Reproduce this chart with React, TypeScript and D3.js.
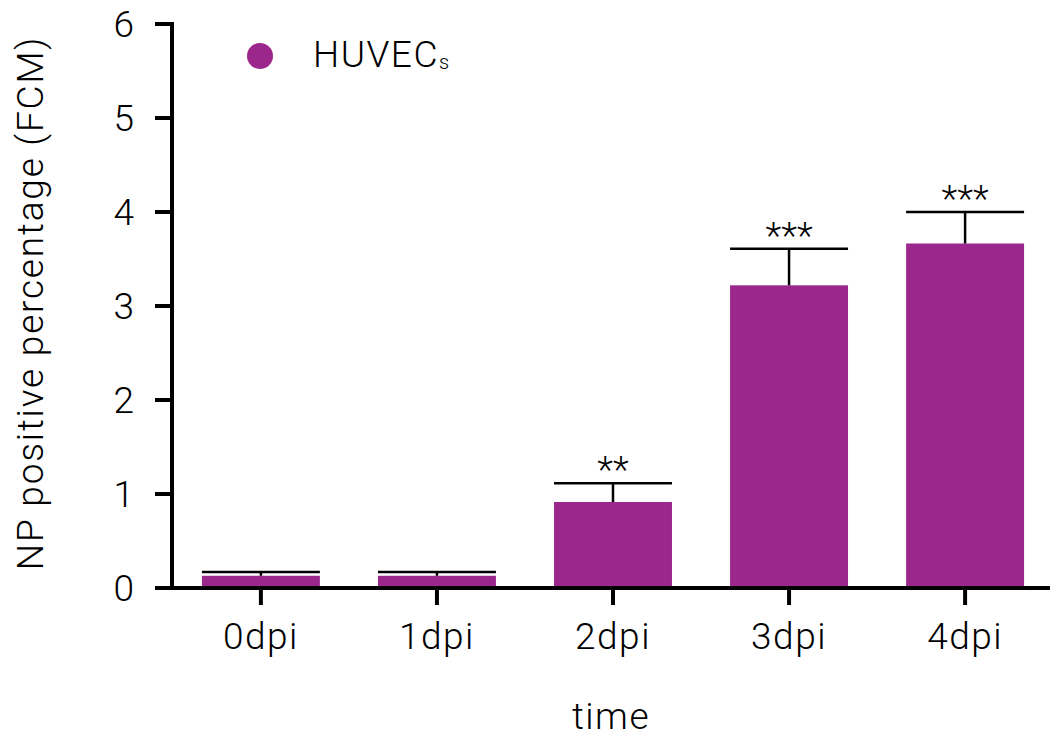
import React from "react";
import * as d3 from "d3";

const categories = ["0dpi", "1dpi", "2dpi", "3dpi", "4dpi"];
const means = [0.13, 0.13, 0.915, 3.22, 3.665];
const errors = [0.04, 0.04, 0.2, 0.39, 0.335];
const significance = ["", "", "**", "***", "***"];
const yTicks = [0, 1, 2, 3, 4, 5, 6];

const W = 1060;
const H = 745;
const left = 172;
const right = 1050;
const top = 24;
const bottom = 588;
const color = "#9b278d";
const font = "Roboto, 'Helvetica Neue', Arial, sans-serif";

export default function App() {
  const x = d3.scaleBand<string>().domain(categories).range([left, 1054]).paddingInner(0.33).paddingOuter(0.17);
  const y = d3.scaleLinear().domain([0, 6]).range([bottom, top]);
  const bw = x.bandwidth();
  return (
    <svg width={W} height={H} style={{ position: "absolute", left: 0, top: 0, background: "#fff" }} fontFamily={font}>
      {categories.map((c, i) => {
        const x0 = x(c)!;
        const cx = x0 + bw / 2;
        const yt = y(means[i]);
        const ye = y(means[i] + errors[i]);
        return (
          <g key={c}>
            <rect x={x0} y={yt} width={bw} height={bottom - yt} fill={color} />
            <line x1={cx} x2={cx} y1={yt} y2={ye} stroke="#000" strokeWidth={2.5} />
            <line x1={x0} x2={x0 + bw} y1={ye} y2={ye} stroke="#000" strokeWidth={2.5} />
            {significance[i] && (
              <text x={cx} y={ye - 1} textAnchor="middle" fontSize={37} fontWeight={300} fill="#000">
                {significance[i]}
              </text>
            )}
          </g>
        );
      })}
      {/* y axis */}
      <line x1={left} x2={left} y1={top - 2} y2={bottom + 2} stroke="#000" strokeWidth={4} />
      {yTicks.map((t) => (
        <g key={t}>
          <line x1={left - 17} x2={left} y1={y(t)} y2={y(t)} stroke="#000" strokeWidth={4} />
          <text x={left - 38} y={y(t)} dy="0.35em" textAnchor="end" fontSize={37} fontWeight={300} fill="#000">
            {t}
          </text>
        </g>
      ))}
      {/* x axis */}
      <line x1={left - 2} x2={right} y1={bottom} y2={bottom} stroke="#000" strokeWidth={4} />
      {categories.map((c) => {
        const cx = x(c)! + bw / 2;
        return (
          <g key={c}>
            <line x1={cx} x2={cx} y1={bottom} y2={bottom + 17} stroke="#000" strokeWidth={4} />
            <text x={cx} y={649} textAnchor="middle" fontSize={37} fontWeight={300} fill="#000" letterSpacing={1.5}>
              {c}
            </text>
          </g>
        );
      })}
      <text x={(left + right) / 2} y={729} textAnchor="middle" fontSize={37} fontWeight={300} fill="#000" letterSpacing={1.5}>
        time
      </text>
      <text
        transform={`translate(43, 303) rotate(-90)`}
        textAnchor="middle"
        fontSize={37}
        fontWeight={300}
        fill="#000"
        letterSpacing={1.8}
      >
        NP positive percentage (FCM)
      </text>
      {/* legend */}
      <circle cx={260} cy={56} r={13} fill={color} />
      <text x={313} y={67} fontSize={37} fontWeight={300} fill="#000" letterSpacing={1.5}>
        HUVEC
        <tspan fontSize={20} dy={2} letterSpacing={0}>s</tspan>
      </text>
    </svg>
  );
}
